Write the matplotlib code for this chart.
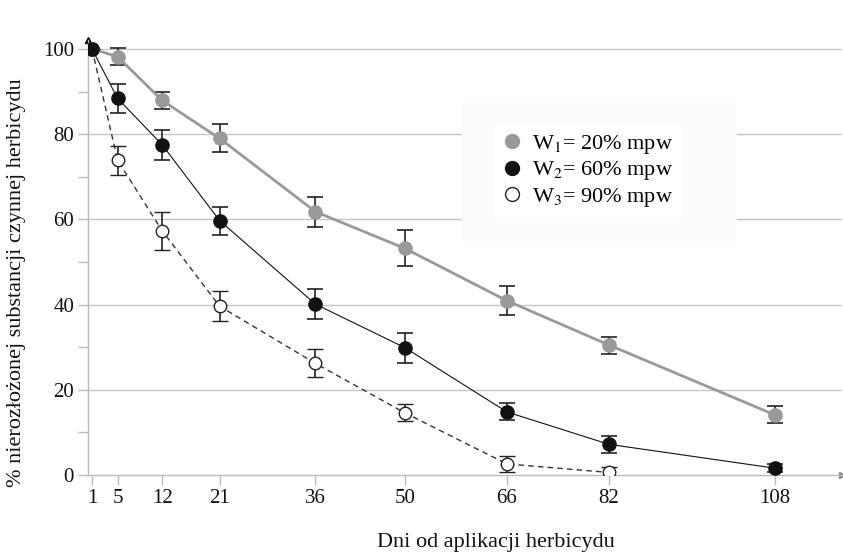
import matplotlib
matplotlib.use("Agg")
import matplotlib.pyplot as plt
from matplotlib.patches import Rectangle
from matplotlib.lines import Line2D

plt.rcParams['font.family'] = ['Liberation Serif', 'DejaVu Serif']
plt.rcParams['mathtext.fontset'] = 'stix'

days = [1, 5, 12, 21, 36, 50, 66, 82, 108]
w1 = [100, 98.2, 87.9, 79.0, 61.8, 53.2, 40.9, 30.5, 14.1]
w1_err = [0, 2.0, 2.0, 3.3, 3.5, 4.2, 3.4, 2.0, 2.0]
w2 = [100, 88.4, 77.5, 59.7, 40.1, 29.9, 14.8, 7.2, 1.6]
w2_err = [0, 3.4, 3.5, 3.3, 3.5, 3.5, 2.0, 2.0, 1.0]
days3 = [1, 5, 12, 21, 36, 50, 66, 82]
w3 = [100, 73.9, 57.3, 39.6, 26.2, 14.6, 2.6, 0.6]
w3_err = [0, 3.4, 4.4, 3.5, 3.3, 2.0, 1.8, 1.2]

labels = [r"W$_1$= 20% mpw", r"W$_2$= 60% mpw", r"W$_3$= 90% mpw"]
xticks = [1, 5, 12, 21, 36, 50, 66, 82, 108]
yticks = [0, 20, 40, 60, 80, 100]

fig = plt.figure(figsize=(8.43, 5.54), dpi=100)
ax = fig.add_axes([88/843, 79/554, 754/843, 435/554])

ax.set_xlim(0.373, 118.5)
ax.set_ylim(0, 102.1)

grid_c = '#c4c4c4'
for y in yticks[1:]:
    ax.axhline(y, color=grid_c, lw=1.0, zorder=0)

# faint legend background
ax.add_patch(Rectangle((462/843, 1-242/554), 275/843, 140/554,
                       transform=fig.transFigure, facecolor='#fcfcfc',
                       edgecolor='none', zorder=1))

gray = '#999999'
ekw = dict(ecolor='#222222', elinewidth=1.2, capsize=5.5, capthick=1.2)
ax.errorbar(days3, w3, yerr=w3_err, color='#333333', lw=1.0, ls=(0, (4, 3)),
            marker='o', ms=9, mfc='white', mec='#222222', mew=1.0, zorder=3, **ekw)
ax.errorbar(days, w2, yerr=w2_err, color='#111111', lw=0.8,
            marker='o', ms=9.5, mfc='#111111', mec='#111111', zorder=4, **ekw)
ax.errorbar(days, w1, yerr=w1_err, color=gray, lw=2.0,
            marker='o', ms=9.5, mfc=gray, mec=gray, zorder=5, **ekw)
# redraw first point on top
ax.plot([1], [100], 'o', ms=9.5, color='#111111', zorder=6)

ax.set_xticks(xticks)
ax.set_yticks(yticks)
ax.set_yticks([10, 30, 50, 70, 90], minor=True)
ax.tick_params(axis='both', which='both', color='#bbbbbb', length=7, width=1,
               labelsize=15, labelcolor='#111111')
ax.tick_params(axis='x', pad=3)
ax.tick_params(axis='y', pad=3)

for s in ['top', 'right']:
    ax.spines[s].set_visible(False)
for s in ['left', 'bottom']:
    ax.spines[s].set_color('#bbbbbb')
    ax.spines[s].set_linewidth(1.0)

# arrowheads
ax.plot([0], [1], marker='^', color='black', ms=4, transform=ax.transAxes, clip_on=False)
ax.plot([1], [0], marker='>', color='#888888', ms=4, transform=ax.transAxes, clip_on=False)

fig.text(496/843, 1-543/554, "Dni od aplikacji herbicydu", fontsize=16,
         ha='center', va='center', color='#111111')
fig.text(17/843, 1-283/554, "% nierozłożonej substancji czynnej herbicydu", fontsize=16,
         ha='center', va='center', rotation=90, color='#111111')

handles = [
    Line2D([], [], ls='none', marker='o', ms=10, mfc=gray, mec=gray),
    Line2D([], [], ls='none', marker='o', ms=10, mfc='#111111', mec='#111111'),
    Line2D([], [], ls='none', marker='o', ms=10, mfc='white', mec='#222222'),
]
leg = ax.legend(handles, labels, loc='upper left', bbox_to_anchor=(483/843, 1-113/554),
                bbox_transform=fig.transFigure, frameon=True, fontsize=16,
                handlelength=0.8, handletextpad=0.5, labelspacing=0.15,
                borderpad=0.4)
leg.get_frame().set_facecolor('white')
leg.get_frame().set_edgecolor('none')
leg.get_frame().set_alpha(1)
leg.set_zorder(10)

fig.savefig("out.png", dpi=100)
